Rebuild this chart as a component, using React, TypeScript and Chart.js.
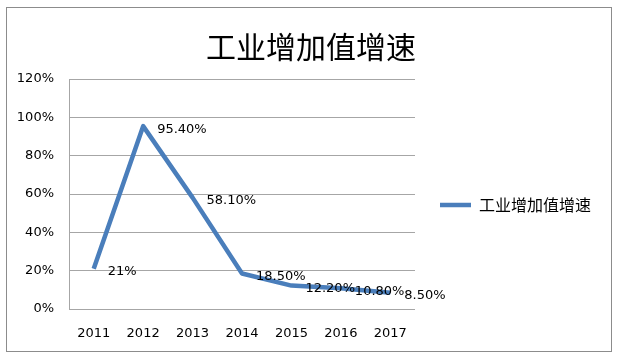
import React, { useEffect, useRef } from "react";
import { Chart, registerables } from "chart.js";

Chart.register(...registerables);

const chartTitle = "工业增加值增速";
const seriesName = "工业增加值增速";
const years = ["2011", "2012", "2013", "2014", "2015", "2016", "2017"];
const growth = [21, 95.4, 58.1, 18.5, 12.2, 10.8, 8.5];
const growthLabels = ["21%", "95.40%", "58.10%", "18.50%", "12.20%", "10.80%", "8.50%"];
const yTicks = [0, 20, 40, 60, 80, 100, 120];

const LINE_COLOR = "#4A7EBB";
const GRID_COLOR = "#a6a6a6";
const TICK_FONT = "'DejaVu Sans', sans-serif";
const CJK_FONT = "'Noto Sans CJK SC', 'Noto Sans', sans-serif";
const LEGEND_WIDTH = 197;

const frameBorder = {
  id: "frameBorder",
  beforeDraw(chart: any) {
    const ctx = chart.ctx;
    ctx.save();
    ctx.fillStyle = "#ffffff";
    ctx.fillRect(0, 0, chart.width, chart.height);
    ctx.strokeStyle = "#8c8c8c";
    ctx.lineWidth = 1;
    ctx.strokeRect(6.5, 7.5, 605, 344);
    ctx.restore();
  },
};

const legendWidthFix = {
  id: "legendWidthFix",
  beforeLayout(chart: any) {
    const lg = chart.legend;
    if (lg && !lg._widthPatched) {
      const orig = lg.fit.bind(lg);
      lg.fit = function () {
        orig();
        this.width = LEGEND_WIDTH;
      };
      lg._widthPatched = true;
    }
  },
};

const pointLabels = {
  id: "pointLabels",
  afterDatasetsDraw(chart: any) {
    const ctx = chart.ctx;
    const meta = chart.getDatasetMeta(0);
    ctx.save();
    ctx.fillStyle = "#000000";
    ctx.font = `13px ${TICK_FONT}`;
    ctx.textAlign = "left";
    ctx.textBaseline = "middle";
    meta.data.forEach((pt: any, i: number) => {
      ctx.fillText(growthLabels[i], pt.x + 14, pt.y + 3);
    });
    ctx.restore();
  },
};

export default function App() {
  const canvasRef = useRef<HTMLCanvasElement | null>(null);

  useEffect(() => {
    if (!canvasRef.current) return;
    const chart = new Chart(canvasRef.current, {
      type: "line",
      data: {
        labels: years,
        datasets: [
          {
            label: seriesName,
            data: growth,
            borderColor: LINE_COLOR,
            backgroundColor: LINE_COLOR,
            borderWidth: 4.5,
            pointRadius: 0,
            pointHoverRadius: 0,
            pointStyle: "line",
            tension: 0,
            borderJoinStyle: "round",
            fill: false,
          },
        ],
      },
      options: {
        responsive: false,
        animation: false,
        events: [],
        layout: { padding: { left: 10, right: 6, top: 8, bottom: 8 } },
        plugins: {
          tooltip: { enabled: false },
          title: {
            display: true,
            text: chartTitle,
            color: "#000000",
            font: { family: CJK_FONT, size: 30, weight: "normal" },
            padding: { top: 21, bottom: 14 },
          },
          legend: {
            display: true,
            position: "right",
            fullSize: false,
            align: "center",
            title: { display: true, text: "", font: { size: 10, lineHeight: 1 }, padding: 6 },
            labels: {
              usePointStyle: true,
              pointStyleWidth: 31,
              padding: 25,
              color: "#000000",
              font: { family: CJK_FONT, size: 16 },
            },
          },
        },
        scales: {
          x: {
            offset: true,
            grid: { display: false, drawTicks: false },
            border: { display: false },
            ticks: {
              color: "#000000",
              font: { family: TICK_FONT, size: 13 },
              padding: 17,
              maxRotation: 0,
            },
            afterFit(scale: any) {
              scale.height = 42;
            },
          },
          y: {
            min: 0,
            max: 120,
            afterBuildTicks(scale: any) {
              scale.ticks = yTicks.map((v) => ({ value: v }));
            },
            grid: { color: GRID_COLOR, lineWidth: 1, drawTicks: false },
            border: { display: true, color: GRID_COLOR, width: 1 },
            ticks: {
              color: "#000000",
              font: { family: TICK_FONT, size: 13 },
              padding: 15,
              callback: (v: any) => `${v}%`,
            },
            afterFit(scale: any) {
              scale.width = 59;
            },
          },
        },
      },
      plugins: [frameBorder, legendWidthFix, pointLabels],
    });
    return () => chart.destroy();
  }, []);

  return (
    <div style={{ position: "fixed", left: 0, top: 0, width: 618, height: 359, background: "#fff" }}>
      <canvas ref={canvasRef} width={618} height={359} style={{ display: "block" }} />
    </div>
  );
}
